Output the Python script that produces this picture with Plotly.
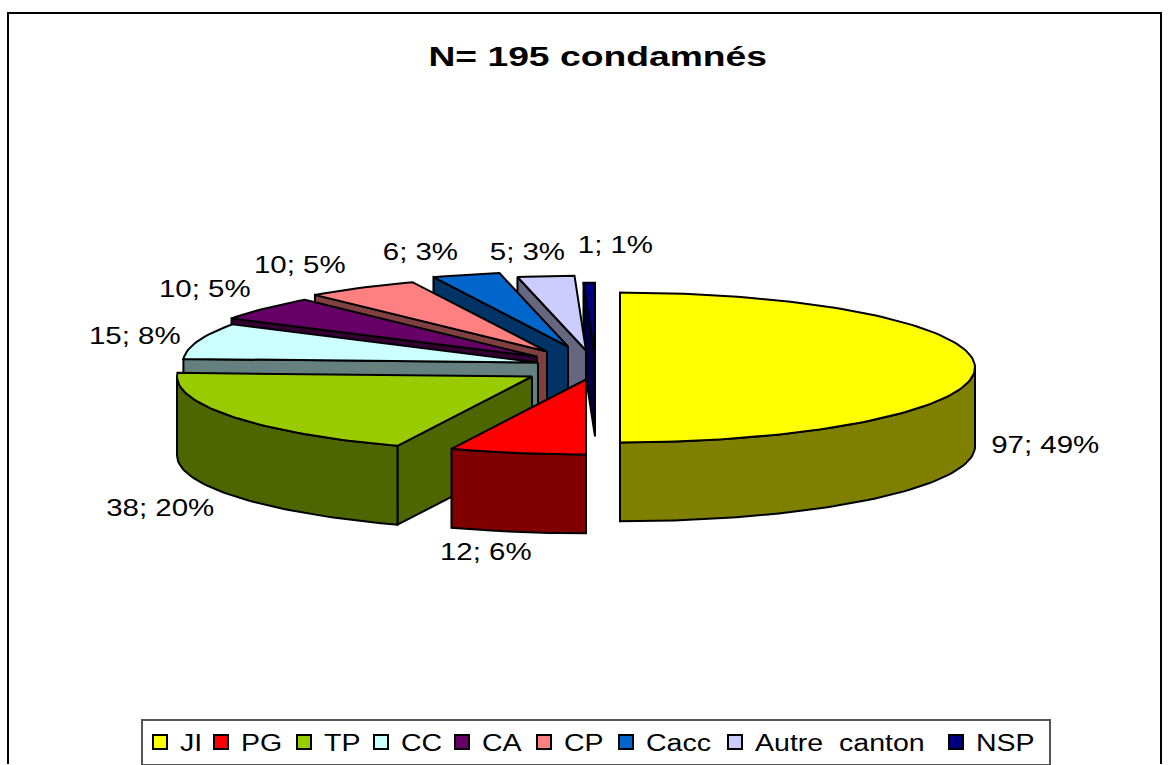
import math
import plotly.graph_objects as go

# --- data ---
categories = ["JI", "PG", "TP", "CC", "CA", "CP", "Cacc", "Autre\u00a0\u00a0canton", "NSP"]
values = [97, 12, 38, 15, 10, 10, 6, 5, 1]
percents = [49, 6, 20, 8, 5, 5, 3, 3, 1]
title_text = "N= 195 condamnés"

# --- styling ---
top_colors = ["#FFFF00", "#FF0000", "#99CC00", "#CCFFFF", "#660066", "#FF8080", "#0066CC", "#CCCCFF", "#000080"]
wall_colors = ["#808000", "#800000", "#4D6600", "#668080", "#330033", "#804040", "#003366", "#666680", "#000040"]
# exploded position of each slice's centre (Excel per-point explosion)
apex_x = [620, 586, 532, 538, 537, 547, 568, 586, 595]
apex_y = [368, 380, 377, 363, 357, 352, 347, 351, 358]
RX, RY, DEPTH = 355, 75, 79
label_x = [1045, 486, 160, 135, 205, 300, 420, 527, 615]
label_y = [446, 553, 509, 336, 289, 265, 252, 252, 245]
FONT = "Liberation Sans, Arial, sans-serif"

fig = go.Figure()
total = sum(values)
angles = [0]
for v in values:
    angles.append(angles[-1] + v / total * 360)


def pt(i, t, dz=0):
    r = math.radians(t)
    return apex_x[i] + RX * math.sin(r), apex_y[i] - RY * math.cos(r) + dz


def arc(i, a, b, dz=0):
    n = max(2, int(abs(b - a) / 1.5) + 2)
    return [pt(i, a + (b - a) * k / (n - 1), dz) for k in range(n)]


def poly(points, color):
    xs = [p[0] for p in points] + [points[0][0]]
    ys = [p[1] for p in points] + [points[0][1]]
    fig.add_trace(go.Scatter(x=xs, y=ys, mode="lines", fill="toself", fillcolor=color,
                             line=dict(color="#000000", width=2), hoverinfo="skip", showlegend=False))


for i in reversed(range(len(values))):
    a, b = angles[i], angles[i + 1]
    ax, ay = apex_x[i], apex_y[i]
    # radial wall on the leading edge
    p = pt(i, a)
    poly([(ax, ay), p, (p[0], p[1] + DEPTH), (ax, ay + DEPTH)], wall_colors[i])
    # outer wall, front half only
    lo, hi = max(a, 90), min(b, 270)
    if hi > lo:
        poly(arc(i, lo, hi) + arc(i, hi, lo, DEPTH), wall_colors[i])
    # top face
    poly([(ax, ay)] + arc(i, a, b), top_colors[i])

# legend entries
for name, color in zip(categories, top_colors):
    fig.add_trace(go.Scatter(x=[None], y=[None], mode="markers", name=name,
                             marker=dict(symbol="square", size=14, color=color,
                                         line=dict(color="#000000", width=2))))

for v, pc, lx, ly in zip(values, percents, label_x, label_y):
    fig.add_annotation(x=lx, y=ly, text=f"{v}; {pc}%", showarrow=False, xanchor="center", yanchor="middle",
                       font=dict(family=FONT, size=23, color="#000000"))

fig.add_annotation(x=597, y=57, text=title_text, showarrow=False, xanchor="center", yanchor="middle",
                   font=dict(family=FONT, size=27, color="#000000", weight="bold"))

fig.add_shape(type="rect", x0=8, y0=13, x1=1161, y1=790, line=dict(color="#000000", width=2), layer="below")

fig.update_layout(
    width=1170, height=765, margin=dict(l=0, r=0, t=0, b=0),
    paper_bgcolor="#FFFFFF", plot_bgcolor="#FFFFFF",
    xaxis=dict(range=[0, 1170], visible=False, fixedrange=True),
    yaxis=dict(range=[765, 0], visible=False, fixedrange=True),
    legend=dict(orientation="h", x=141 / 1170, y=1 - 720 / 765, xanchor="left", yanchor="top",
                bgcolor="#FFFFFF", bordercolor="#555555", borderwidth=1.5,
                font=dict(family=FONT, size=23, color="#000000")),
)

# Excel's output stretches glyphs horizontally; reproduce this, and lay out the legend entries as in the reference.
post = """
document.documentElement.style.overflow='hidden';
document.body.style.margin='0';
function stretch(t,f){var l=t.getComputedTextLength();t.setAttribute('textLength',l*f);t.setAttribute('lengthAdjust','spacingAndGlyphs');}
document.querySelectorAll('.annotation-text').forEach(function(t){
  stretch(t, t.textContent.indexOf('condamn')>=0 ? 1.38 : 1.28);
});
var gd=document.querySelector('.plotly-graph-div');
var centers=[160,221,304,381,462,544,626,735,956];
var leg=gd.querySelector('.legend');
leg.querySelectorAll('.scrollbox').forEach(function(s){s.removeAttribute('clip-path');});
var bg=leg.querySelector('rect.bg'); bg.setAttribute('width',908);
var items=leg.querySelectorAll('g.traces');
var cr=gd.getBoundingClientRect();
items.forEach(function(g,i){
  stretch(g.querySelector('.legendtext'),1.24);
  var r=g.querySelector('.legendpoints').getBoundingClientRect();
  var cx=r.left+r.width/2-cr.left;
  var tf=g.getAttribute('transform').match(/translate\\(([-\\d.]+),\\s*([-\\d.]+)\\)/);
  g.setAttribute('transform','translate('+(parseFloat(tf[1])+centers[i]-cx)+','+tf[2]+')');
});
"""
fig.write_html("out.html", post_script=post, config={"displayModeBar": False})
